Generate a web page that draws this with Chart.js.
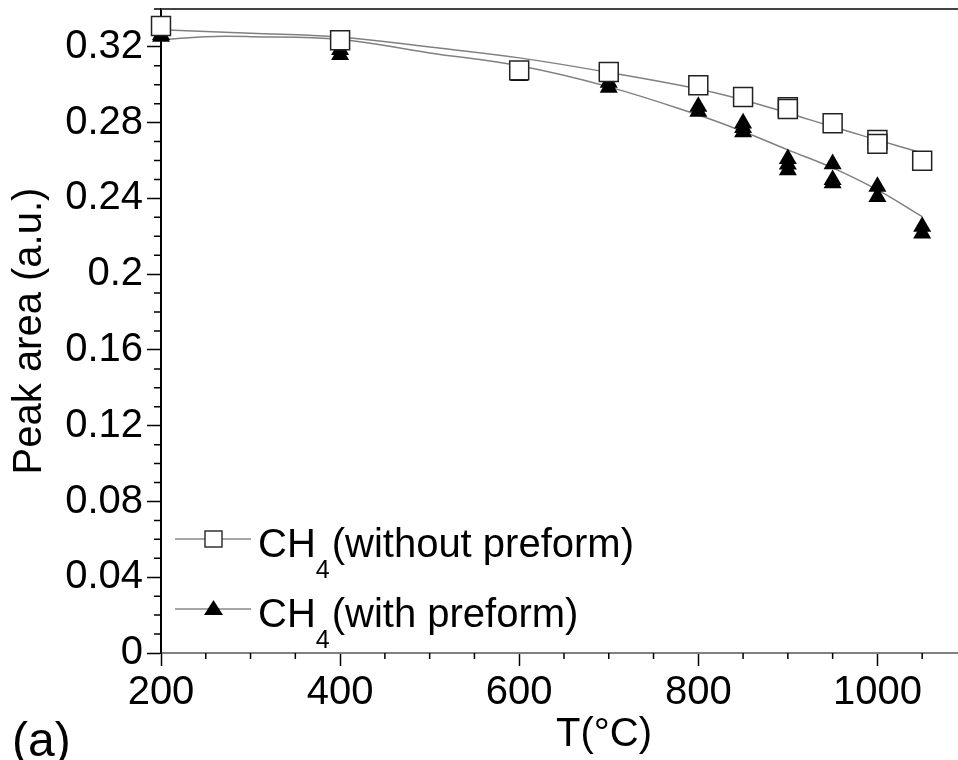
<!DOCTYPE html>
<html>
<head>
<meta charset="utf-8">
<script src="https://cdn.jsdelivr.net/npm/chart.js@4"></script>
<style>
    body { margin: 0; background: #fff; }
    #wrap { width: 958px; height: 760px; }
</style>
</head>
<body>
<div id="wrap"><canvas id="peakChart"></canvas></div>
<script>
// measured points, repeated temperatures are repeated runs
const tempWithout = [200, 400, 600, 700, 800, 850, 900, 900, 950, 1000, 1000, 1050];
const areaWithout = [0.3310, 0.3235, 0.3076, 0.3067, 0.2997, 0.2935, 0.2881, 0.2872, 0.2797, 0.2709, 0.2688, 0.2599];

const tempWith = [200, 200, 400, 400, 600, 600, 700, 700, 800, 800, 850, 850, 850,
                  900, 900, 900, 950, 950, 950, 1000, 1000, 1050, 1050];
const areaWith = [0.3264, 0.3254, 0.3184, 0.3158, 0.3052, 0.3047, 0.3012, 0.2985, 0.2885, 0.2858, 0.2797, 0.2773, 0.2750,
                  0.2609, 0.2580, 0.2550, 0.2582, 0.2498, 0.2481, 0.2462, 0.2409, 0.2251, 0.2216];

// fitted curves
const fitTempWithout = [200, 300, 400, 500, 600, 700, 800, 850, 900, 950, 1000, 1050];
const fitAreaWithout = [0.3290, 0.3272, 0.3251, 0.3199, 0.3142, 0.3065, 0.2978, 0.2920, 0.2851, 0.2778, 0.2709, 0.2640];
const fitTempWith = [200, 250, 300, 400, 500, 600, 700, 800, 850, 900, 950, 1000, 1050];
const fitAreaWith = [0.3237, 0.3254, 0.3254, 0.3239, 0.3168, 0.3100, 0.2989, 0.2840, 0.2753, 0.2656, 0.2561, 0.2445, 0.2304];

const xMinorTicks = [250, 300, 350, 450, 500, 550, 650, 700, 750, 850, 900, 950, 1050];
const yMinorTicks = [0.01, 0.02, 0.03, 0.05, 0.06, 0.07, 0.09, 0.10, 0.11, 0.13, 0.14, 0.15, 0.17, 0.18, 0.19,
                     0.21, 0.22, 0.23, 0.25, 0.26, 0.27, 0.29, 0.30, 0.31, 0.33, 0.34];

const seriesNames = ['(without preform)', '(with preform)'];

const FONT = 'Liberation Sans, Arial, sans-serif';

function pairs(xs, ys) {
    return xs.map((x, i) => ({ x: x, y: ys[i] }));
}

const extras = {
    id: 'extras',
    beforeDatasetsDraw(chart) {
        const c = chart.ctx;
        const area = chart.chartArea;
        const xs = chart.scales.x;
        const ys = chart.scales.y;
        c.save();

        // top frame line
        c.strokeStyle = '#444';
        c.lineWidth = 2;
        c.beginPath();
        c.moveTo(area.left, area.top);
        c.lineTo(area.right, area.top);
        c.stroke();

        // minor ticks (under the markers)
        c.strokeStyle = '#000';
        c.lineWidth = 1.5;
        c.beginPath();
        yMinorTicks.forEach(v => {
            const p = ys.getPixelForValue(v);
            c.moveTo(area.left - 7, p);
            c.lineTo(area.left, p);
        });
        xMinorTicks.forEach(v => {
            const p = xs.getPixelForValue(v);
            c.moveTo(p, area.bottom);
            c.lineTo(p, area.bottom + 6);
        });
        c.stroke();
        c.restore();
    },
    afterDraw(chart) {
        const c = chart.ctx;
        c.save();

        // x title and panel letter
        c.fillStyle = '#000';
        c.textBaseline = 'alphabetic';
        c.textAlign = 'center';
        c.font = '40px ' + FONT;
        c.fillText('T(°C)', 604, 746);
        c.textAlign = 'left';
        c.font = '48px ' + FONT;
        c.fillText('(a)', 12, 756);

        // legend
        const rows = [{ y: 539, base: 557 }, { y: 609, base: 627 }];
        rows.forEach((r, i) => {
            c.strokeStyle = '#888';
            c.lineWidth = 1.5;
            c.beginPath();
            c.moveTo(175, r.y);
            c.lineTo(251, r.y);
            c.stroke();
            c.beginPath();
            if (i === 0) {
                c.fillStyle = '#fff';
                c.rect(205, r.y - 8, 17, 16);
                c.fill();
                c.strokeStyle = '#333';
                c.lineWidth = 1.5;
                c.stroke();
            } else {
                c.fillStyle = '#000';
                c.moveTo(213.5, r.y - 9);
                c.lineTo(223, r.y + 6);
                c.lineTo(204, r.y + 6);
                c.closePath();
                c.fill();
            }
            c.fillStyle = '#000';
            c.font = '40px ' + FONT;
            let x = 258;
            c.fillText('CH', x, r.base);
            x += c.measureText('CH').width;
            c.font = '25px ' + FONT;
            c.fillText('4', x, r.base + 21);
            x += c.measureText('4').width + 2;
            c.font = '40px ' + FONT;
            c.fillText(seriesNames[i], x, r.base);
        });
        c.restore();
    }
};

document.addEventListener('DOMContentLoaded', function() {
    const ctx = document.getElementById('peakChart').getContext('2d');

    const peakChart = new Chart(ctx, {
        type: 'scatter',
        data: {
            datasets: [{
                label: 'CH4' + seriesNames[0],
                data: pairs(tempWithout, areaWithout),
                pointStyle: 'rect',
                pointRadius: 13.4,
                pointBackgroundColor: '#fff',
                pointBorderColor: '#222',
                pointBorderWidth: 1.5,
                clip: false,
                order: 0
            }, {
                label: 'CH4' + seriesNames[1],
                data: pairs(tempWith, areaWith),
                pointStyle: 'triangle',
                pointRadius: 10.4,
                pointBackgroundColor: '#000',
                pointBorderColor: '#000',
                pointBorderWidth: 0,
                clip: false,
                order: 0
            }, {
                label: 'fit without',
                data: pairs(fitTempWithout, fitAreaWithout),
                showLine: true,
                pointRadius: 0,
                borderColor: '#808080',
                borderWidth: 1.5,
                tension: 0.4,
                clip: false,
                order: 1
            }, {
                label: 'fit with',
                data: pairs(fitTempWith, fitAreaWith),
                showLine: true,
                pointRadius: 0,
                borderColor: '#808080',
                borderWidth: 1.5,
                tension: 0.4,
                clip: false,
                order: 1
            }]
        },
        options: {
            responsive: true,
            maintainAspectRatio: false,
            animation: false,
            layout: { autoPadding: false, padding: { top: 9, right: 0, left: 0, bottom: 0 } },
            plugins: {
                legend: { display: false },
                tooltip: { enabled: false }
            },
            scales: {
                x: {
                    type: 'linear',
                    min: 200,
                    max: 1090,
                    afterFit: s => { s.height = 107; s.paddingLeft = 0; s.paddingRight = 0; },
                    grid: { drawOnChartArea: false, tickLength: 13, tickColor: '#000', tickWidth: 1.5 },
                    border: { color: '#808080', width: 2 },
                    ticks: {
                        stepSize: 200,
                        includeBounds: false,
                        autoSkip: false,
                        maxRotation: 0,
                        padding: 3,
                        color: '#000',
                        font: { size: 40, family: FONT },
                        callback: v => String(v)
                    }
                },
                y: {
                    min: 0,
                    max: 0.34,
                    afterFit: s => { s.width = 161; s.paddingTop = 0; s.paddingBottom = 0; },
                    grid: { drawOnChartArea: false, tickLength: 14, tickColor: '#000', tickWidth: 1.5 },
                    border: { color: '#000', width: 2 },
                    title: {
                        display: true,
                        text: 'Peak area (a.u.)',
                        color: '#000',
                        font: { size: 40, family: FONT },
                        padding: { top: 6, bottom: 0 }
                    },
                    ticks: {
                        stepSize: 0.04,
                        includeBounds: false,
                        autoSkip: false,
                        padding: 4,
                        color: '#000',
                        font: { size: 40, family: FONT },
                        callback: v => String(+v.toFixed(2))
                    }
                }
            }
        },
        plugins: [extras]
    });
});
</script>
</body>
</html>
